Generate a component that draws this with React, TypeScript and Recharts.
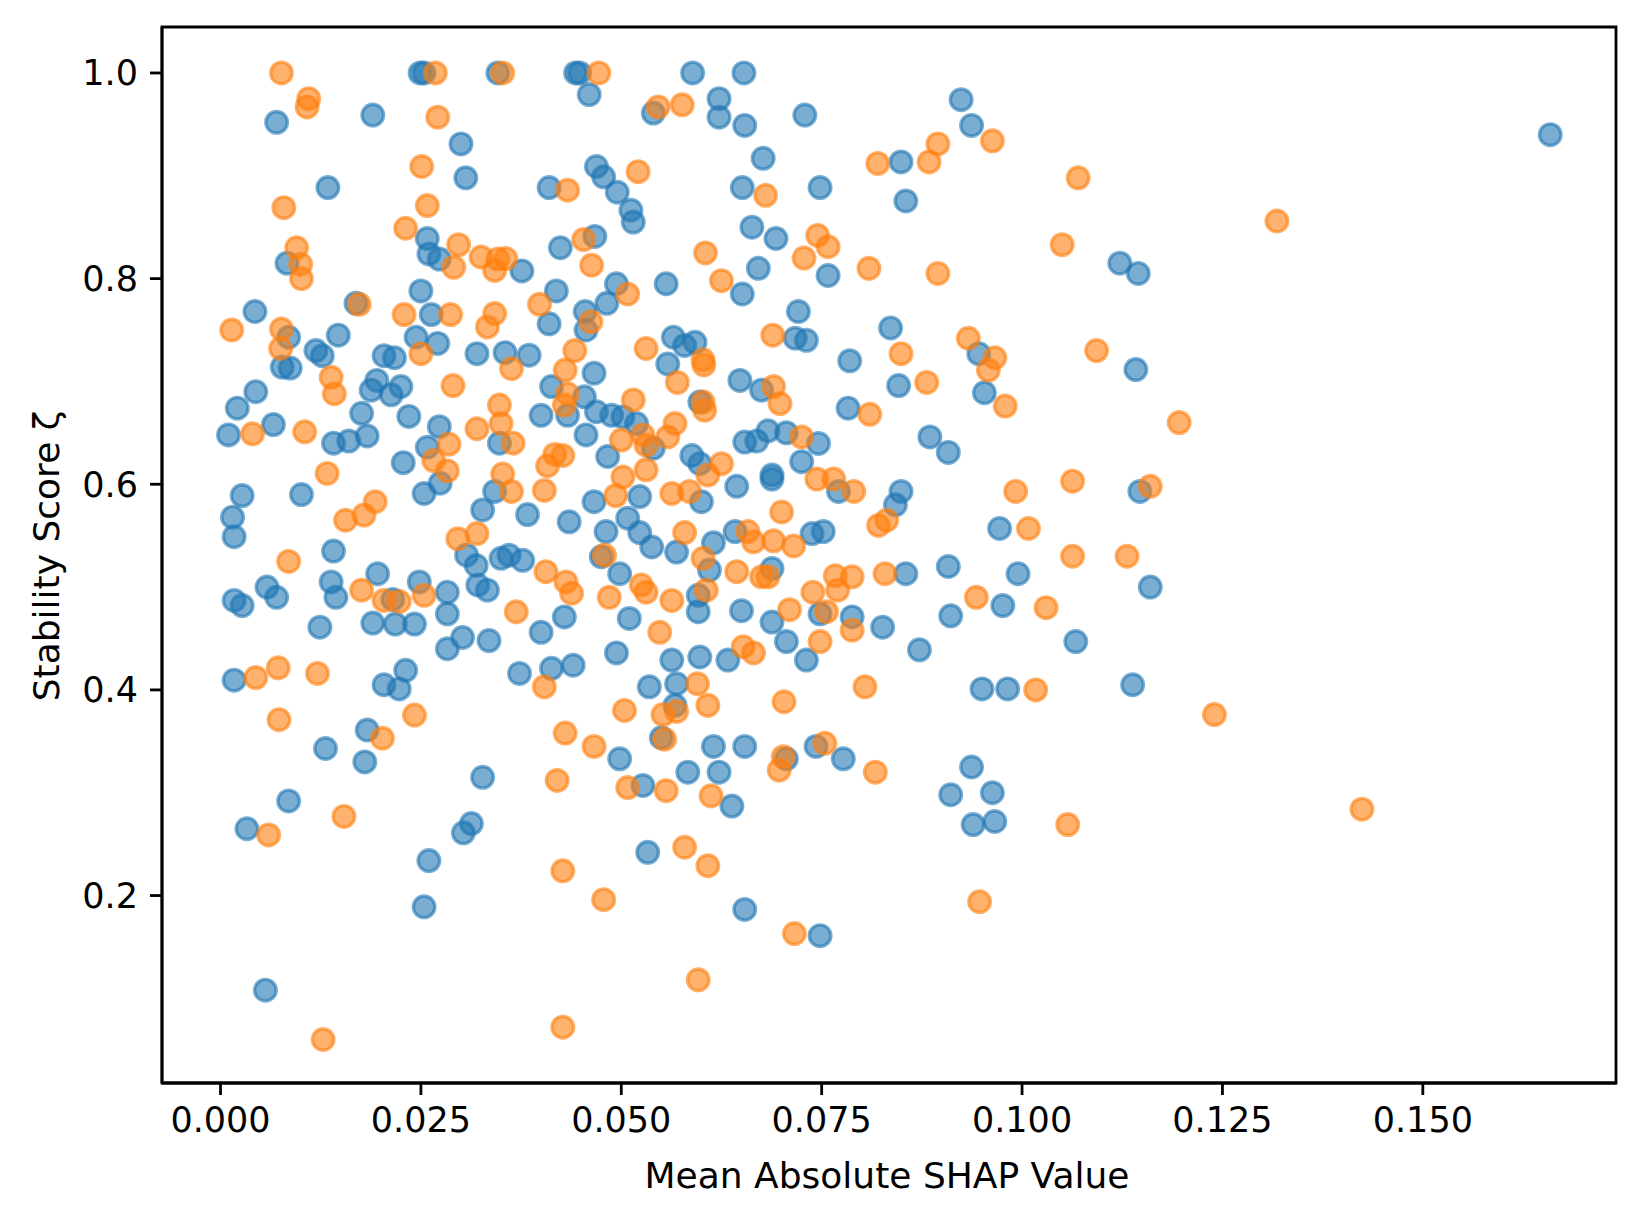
import { ScatterChart, Scatter, XAxis, YAxis, ReferenceArea } from 'recharts';

// [mean |SHAP|, stability score]
const blueShap: number[][] = [
  [0.0070, 0.952], [0.0190, 0.959], [0.0249, 1.0], [0.0254, 1.0], [0.0346, 1.0], [0.0300, 0.931],
  [0.0306, 0.898], [0.0134, 0.8885], [0.0258, 0.839], [0.0260, 0.824], [0.0273, 0.819], [0.0083, 0.815],
  [0.0043, 0.768], [0.0085, 0.743], [0.0147, 0.745], [0.0169, 0.776], [0.0250, 0.788], [0.0263, 0.765],
  [0.0244, 0.743], [0.0271, 0.737], [0.0320, 0.727], [0.0119, 0.730], [0.0127, 0.725], [0.0204, 0.725],
  [0.0217, 0.723], [0.0355, 0.728],
  [0.0077, 0.714], [0.0087, 0.713], [0.0195, 0.701], [0.0188, 0.6915], [0.0213, 0.687], [0.0225, 0.695],
  [0.0044, 0.690], [0.0021, 0.674], [0.0010, 0.648], [0.0066, 0.658], [0.0141, 0.640], [0.0160, 0.642],
  [0.0183, 0.647], [0.0176, 0.669], [0.0235, 0.666], [0.0273, 0.656], [0.0258, 0.636], [0.0274, 0.601],
  [0.0254, 0.591], [0.0228, 0.621], [0.0101, 0.590], [0.0027, 0.589], [0.0015, 0.568], [0.0017, 0.549],
  [0.0141, 0.535], [0.0348, 0.640], [0.0342, 0.593], [0.0327, 0.575], [0.0017, 0.487], [0.0027, 0.482],
  [0.0058, 0.500], [0.0070, 0.490], [0.0138, 0.505], [0.0144, 0.490], [0.0196, 0.513], [0.0215, 0.488],
  [0.0248, 0.505], [0.0283, 0.495], [0.0283, 0.474], [0.0190, 0.465], [0.0218, 0.464], [0.0242, 0.464],
  [0.0124, 0.461], [0.0283, 0.440], [0.0302, 0.451], [0.0335, 0.448], [0.0321, 0.502], [0.0333, 0.497],
  [0.0319, 0.521], [0.0307, 0.531], [0.0350, 0.528], [0.0017, 0.4095], [0.0231, 0.419], [0.0204, 0.405],
  [0.0223, 0.401],
  [0.0183, 0.361], [0.0131, 0.343], [0.0180, 0.330], [0.0327, 0.315], [0.0085, 0.292], [0.0033, 0.265],
  [0.0313, 0.270], [0.0303, 0.261], [0.0260, 0.234], [0.0254, 0.189], [0.0056, 0.108],
  [0.0443, 1.0], [0.0448, 1.0], [0.0460, 0.979], [0.0589, 1.0], [0.0653, 1.0], [0.0540, 0.961],
  [0.0622, 0.975], [0.0622, 0.957], [0.0654, 0.949], [0.0729, 0.959], [0.0677, 0.917], [0.0469, 0.909],
  [0.0478, 0.899], [0.0495, 0.884], [0.0512, 0.8665], [0.0515, 0.855], [0.0410, 0.8885], [0.0651, 0.8885],
  [0.0748, 0.8885], [0.0663, 0.850], [0.0693, 0.839], [0.0758, 0.803], [0.0671, 0.810], [0.0651, 0.785],
  [0.0467, 0.841], [0.0424, 0.830], [0.0376, 0.8075], [0.0419, 0.788], [0.0410, 0.756], [0.0455, 0.768],
  [0.0456, 0.750], [0.0482, 0.776], [0.0494, 0.795], [0.0556, 0.795], [0.0565, 0.743], [0.0579, 0.735],
  [0.0592, 0.738], [0.0721, 0.768], [0.0717, 0.742], [0.0731, 0.740], [0.0385, 0.7255], [0.0785, 0.720],
  [0.0466, 0.708], [0.0413, 0.695], [0.0454, 0.685], [0.0400, 0.667], [0.0433, 0.667], [0.0469, 0.6705],
  [0.0488, 0.667], [0.0502, 0.6655], [0.0519, 0.659], [0.0456, 0.648], [0.0540, 0.635], [0.0483, 0.627],
  [0.0383, 0.5705], [0.0435, 0.5635], [0.0466, 0.583], [0.0523, 0.588], [0.0508, 0.567], [0.0481, 0.554],
  [0.0523, 0.553], [0.0538, 0.539], [0.0569, 0.534], [0.0588, 0.628], [0.0598, 0.620], [0.0600, 0.583],
  [0.0598, 0.680], [0.0558, 0.717], [0.0648, 0.701], [0.0675, 0.6915], [0.0654, 0.641], [0.0669, 0.642],
  [0.0683, 0.652], [0.0706, 0.650], [0.0746, 0.6397], [0.0725, 0.622], [0.0688, 0.609], [0.0688, 0.605],
  [0.0771, 0.593], [0.0783, 0.674], [0.0644, 0.598], [0.0642, 0.554], [0.0738, 0.552], [0.0752, 0.554],
  [0.0615, 0.543], [0.0610, 0.5165], [0.0475, 0.5295], [0.0498, 0.513], [0.0596, 0.492], [0.0596, 0.476],
  [0.0688, 0.518], [0.0650, 0.477], [0.0688, 0.466], [0.0706, 0.447], [0.0731, 0.429], [0.0748, 0.474],
  [0.0788, 0.471], [0.0400, 0.456], [0.0429, 0.471], [0.0360, 0.531], [0.0377, 0.526], [0.0510, 0.4695],
  [0.0494, 0.436], [0.0563, 0.429], [0.0598, 0.432], [0.0633, 0.429], [0.0373, 0.416], [0.0413, 0.421],
  [0.0440, 0.424], [0.0535, 0.403], [0.0569, 0.406],
  [0.0567, 0.385], [0.0550, 0.3535], [0.0498, 0.333], [0.0527, 0.307], [0.0583, 0.320], [0.0615, 0.345],
  [0.0654, 0.345], [0.0622, 0.320], [0.0638, 0.287], [0.0706, 0.333], [0.0743, 0.345], [0.0777, 0.333],
  [0.0533, 0.242], [0.0654, 0.1865], [0.0748, 0.161],
  [0.0924, 0.974], [0.0937, 0.949], [0.0849, 0.9135], [0.0855, 0.8755], [0.1122, 0.815], [0.1145, 0.805],
  [0.0836, 0.752], [0.0946, 0.727],
  [0.1142, 0.7115], [0.0846, 0.696], [0.0953, 0.689], [0.0885, 0.646], [0.0908, 0.631], [0.0849, 0.593],
  [0.0842, 0.580], [0.1147, 0.593], [0.0972, 0.557], [0.0855, 0.513], [0.0908, 0.520], [0.0995, 0.513],
  [0.1160, 0.500], [0.0976, 0.482], [0.0911, 0.472], [0.0826, 0.461], [0.0872, 0.439], [0.1067, 0.447],
  [0.0950, 0.401], [0.0982, 0.401], [0.1138, 0.405],
  [0.0937, 0.325], [0.0911, 0.298], [0.0963, 0.300], [0.0939, 0.269], [0.0966, 0.272],
  [0.1659, 0.940],
];

const orangeShap: number[][] = [
  [0.0076, 1.0], [0.0110, 0.975], [0.0108, 0.967], [0.0268, 1.0], [0.0352, 1.0], [0.0271, 0.957],
  [0.0251, 0.909], [0.0079, 0.869], [0.0258, 0.871], [0.0231, 0.849], [0.0297, 0.833], [0.0291, 0.811],
  [0.0325, 0.821], [0.0346, 0.819], [0.0342, 0.808], [0.0095, 0.830], [0.0100, 0.814], [0.0101, 0.800],
  [0.0014, 0.750], [0.0076, 0.751], [0.0075, 0.732], [0.0173, 0.775], [0.0287, 0.765], [0.0229, 0.765],
  [0.0250, 0.727], [0.0342, 0.766], [0.0333, 0.753],
  [0.0138, 0.704], [0.0142, 0.688], [0.0290, 0.696], [0.0040, 0.649], [0.0105, 0.651], [0.0285, 0.639],
  [0.0266, 0.623], [0.0283, 0.613], [0.0133, 0.6105], [0.0156, 0.565], [0.0179, 0.570], [0.0193, 0.583],
  [0.0085, 0.525], [0.0296, 0.547], [0.0320, 0.552], [0.0320, 0.654], [0.0348, 0.677], [0.0350, 0.659],
  [0.0352, 0.610], [0.0176, 0.497], [0.0204, 0.487], [0.0223, 0.486], [0.0254, 0.492], [0.0044, 0.412],
  [0.0072, 0.4215], [0.0121, 0.416],
  [0.0073, 0.371], [0.0202, 0.353], [0.0242, 0.3755], [0.0154, 0.277], [0.0060, 0.259], [0.0128, 0.060],
  [0.0472, 1.0], [0.0546, 0.967], [0.0576, 0.969], [0.0521, 0.904], [0.0433, 0.886], [0.0680, 0.881],
  [0.0745, 0.842], [0.0758, 0.831], [0.0728, 0.820], [0.0605, 0.825], [0.0625, 0.798], [0.0453, 0.838],
  [0.0463, 0.813], [0.0356, 0.8195], [0.0398, 0.775], [0.0462, 0.758], [0.0508, 0.785], [0.0442, 0.730],
  [0.0531, 0.732], [0.0602, 0.721], [0.0689, 0.745],
  [0.0363, 0.7125], [0.0430, 0.711], [0.0433, 0.688], [0.0429, 0.677], [0.0515, 0.682], [0.0567, 0.659],
  [0.0558, 0.646], [0.0500, 0.643], [0.0527, 0.648], [0.0531, 0.638], [0.0427, 0.628], [0.0417, 0.629],
  [0.0408, 0.618], [0.0365, 0.640], [0.0363, 0.593], [0.0404, 0.594], [0.0493, 0.589], [0.0502, 0.607],
  [0.0531, 0.614], [0.0608, 0.609], [0.0625, 0.620], [0.0563, 0.591], [0.0585, 0.593], [0.0602, 0.680],
  [0.0604, 0.672], [0.0570, 0.699], [0.0603, 0.716], [0.0690, 0.695], [0.0698, 0.6785], [0.0725, 0.646],
  [0.0744, 0.605], [0.0765, 0.605], [0.0790, 0.593], [0.0700, 0.573], [0.0658, 0.554], [0.0665, 0.544],
  [0.0690, 0.545], [0.0715, 0.540], [0.0579, 0.553], [0.0602, 0.528], [0.0479, 0.531], [0.0525, 0.502],
  [0.0531, 0.495], [0.0406, 0.515], [0.0431, 0.505], [0.0438, 0.494], [0.0485, 0.490], [0.0563, 0.487],
  [0.0606, 0.497], [0.0644, 0.515], [0.0675, 0.510], [0.0683, 0.510], [0.0710, 0.478], [0.0739, 0.495],
  [0.0770, 0.497], [0.0767, 0.511], [0.0788, 0.510], [0.0756, 0.476], [0.0748, 0.447], [0.0788, 0.458],
  [0.0369, 0.476], [0.0548, 0.456], [0.0652, 0.442], [0.0665, 0.436], [0.0404, 0.403], [0.0595, 0.406],
  [0.0504, 0.380], [0.0569, 0.379], [0.0552, 0.376], [0.0608, 0.385], [0.0703, 0.3885], [0.0430, 0.358],
  [0.0466, 0.345], [0.0554, 0.352], [0.0420, 0.312], [0.0508, 0.305], [0.0556, 0.302], [0.0612, 0.297],
  [0.0702, 0.335], [0.0697, 0.322], [0.0754, 0.348], [0.0579, 0.247], [0.0608, 0.229], [0.0427, 0.224],
  [0.0478, 0.196], [0.0716, 0.163], [0.0596, 0.118], [0.0427, 0.072],
  [0.0963, 0.934], [0.0895, 0.931], [0.0884, 0.9135], [0.0820, 0.912], [0.1070, 0.898], [0.1050, 0.833],
  [0.0809, 0.810], [0.0895, 0.805], [0.0933, 0.742], [0.0966, 0.723], [0.0849, 0.727], [0.1093, 0.730],
  [0.0958, 0.711], [0.0881, 0.699], [0.0979, 0.676], [0.0810, 0.668], [0.1196, 0.660], [0.0821, 0.560],
  [0.0831, 0.565], [0.0992, 0.593], [0.1063, 0.603], [0.1160, 0.598], [0.1008, 0.557], [0.1063, 0.530],
  [0.1131, 0.530], [0.0829, 0.513], [0.0943, 0.490], [0.1030, 0.480], [0.0804, 0.403], [0.1017, 0.400],
  [0.0817, 0.320], [0.1057, 0.269], [0.0947, 0.194],
  [0.1318, 0.856], [0.1240, 0.376], [0.1424, 0.284],
];

const xTicks = [0, 0.025, 0.05, 0.075, 0.1, 0.125, 0.15];
const yTicks = [0.2, 0.4, 0.6, 0.8, 1.0];
const xDomain = [-0.0073, 0.1741];
const yDomain = [0.0177, 1.0447];

const FONT = '"DejaVu Sans", sans-serif';

const toPoints = (rows: number[][]) => rows.map(([x, y]) => ({ x, y }));

function dot(color: string) {
  return (props: any) => (
    <circle
      cx={props.cx}
      cy={props.cy}
      r={10.8}
      fill={color}
      fillOpacity={0.6}
      stroke={color}
      strokeOpacity={0.6}
      strokeWidth={3.4}
    />
  );
}

export default function App() {
  return (
    <div style={{ width: 1642, height: 1221, position: 'relative', background: '#fff' }}>
      <style>{'body{margin:0}'}</style>
      <ScatterChart width={1642} height={1221} margin={{ top: 27, right: 26, bottom: 38, left: 42 }}>
        <XAxis
          dataKey="x"
          type="number"
          domain={xDomain}
          ticks={xTicks}
          allowDataOverflow
          height={100}
          tickSize={12}
          tickMargin={12}
          tickFormatter={(v: number) => v.toFixed(3)}
          axisLine={{ stroke: '#000', strokeWidth: 2.8 }}
          tickLine={{ stroke: '#000', strokeWidth: 2.8 }}
          tick={{ fontSize: 35, fill: '#000', fontFamily: FONT }}
        />
        <YAxis
          dataKey="y"
          type="number"
          domain={yDomain}
          ticks={yTicks}
          allowDataOverflow
          width={120}
          tickSize={12}
          tickMargin={12}
          tickFormatter={(v: number) => v.toFixed(1)}
          axisLine={{ stroke: '#000', strokeWidth: 2.8 }}
          tickLine={{ stroke: '#000', strokeWidth: 2.8 }}
          tick={{ fontSize: 35, fill: '#000', fontFamily: FONT }}
        />
        <ReferenceArea
          x1={xDomain[0]}
          x2={xDomain[1]}
          y1={yDomain[0]}
          y2={yDomain[1]}
          fill="none"
          stroke="#000"
          strokeWidth={2.8}
          ifOverflow="visible"
        />
        <Scatter data={toPoints(blueShap)} fill="#1f77b4" shape={dot('#1f77b4')} isAnimationActive={false} />
        <Scatter data={toPoints(orangeShap)} fill="#ff7f0e" shape={dot('#ff7f0e')} isAnimationActive={false} />
      </ScatterChart>
      <svg width={1642} height={1221} style={{ position: 'absolute', left: 0, top: 0, pointerEvents: 'none' }}>
        <text
          x={887}
          y={1175}
          textAnchor="middle"
          dominantBaseline="central"
          fontSize={36}
          fontFamily={FONT}
          fill="#000"
        >
          Mean Absolute SHAP Value
        </text>
        <text
          x={46}
          y={556}
          textAnchor="middle"
          dominantBaseline="central"
          fontSize={36}
          fontFamily={FONT}
          fill="#000"
          transform="rotate(-90 46 556)"
        >
          Stability Score ζ
        </text>
      </svg>
    </div>
  );
}
